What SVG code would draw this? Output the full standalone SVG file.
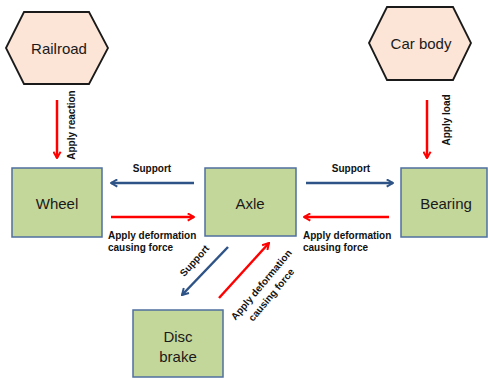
<svg xmlns="http://www.w3.org/2000/svg" width="488" height="378" viewBox="0 0 488 378">
<defs>
<marker id="ar" viewBox="0 0 10 10" refX="8.5" refY="5" markerWidth="9" markerHeight="9" orient="auto" markerUnits="userSpaceOnUse">
<polyline points="1.5,1 8.5,5 1.5,9" fill="none" stroke="#FF0000" stroke-width="2.2"/>
</marker>
<marker id="ab" viewBox="0 0 10 10" refX="8.5" refY="5" markerWidth="9" markerHeight="9" orient="auto" markerUnits="userSpaceOnUse">
<polyline points="1.5,1 8.5,5 1.5,9" fill="none" stroke="#2E5387" stroke-width="2.2"/>
</marker>
<style>
.hex{fill:#FCE4D6;stroke:#1a1a1a;stroke-width:1.8}
.box{fill:#C4D79B;stroke:#4F6F9F;stroke-width:1.5}
.nt{font-family:"Liberation Sans",Arial,sans-serif;font-size:15px;fill:#1a1a1a;text-anchor:middle}
.lb{font-family:"Liberation Sans",Arial,sans-serif;font-size:10px;font-weight:bold;fill:#111}
.r{stroke:#FF0000;stroke-width:2.5;fill:none;marker-end:url(#ar)}
.b{stroke:#2E5387;stroke-width:2.5;fill:none;marker-end:url(#ab)}
</style>
</defs>
<rect width="488" height="378" fill="#fff"/>
<g id="railroad">
<polygon class="hex" points="6,48 24,12 89,12 108,48 89,84 24,84"/>
<text class="nt" x="59" y="54">Railroad</text>
</g>
<g id="carbody">
<polygon class="hex" points="369,43 387,7 453,7 471,43 453,80 387,80"/>
<text class="nt" x="421" y="49">Car body</text>
</g>
<g id="wheel">
<rect class="box" x="12" y="168" width="90" height="69"/>
<text class="nt" x="57" y="209">Wheel</text>
</g>
<g id="axle">
<rect class="box" x="205" y="168" width="91" height="68"/>
<text class="nt" x="250" y="209">Axle</text>
</g>
<g id="bearing">
<rect class="box" x="401" y="168" width="86" height="69"/>
<text class="nt" x="446" y="209">Bearing</text>
</g>
<g id="discbrake">
<rect class="box" x="133" y="310" width="90" height="67"/>
<text class="nt" x="178" y="342">Disc</text>
<text class="nt" x="178" y="362">brake</text>
</g>
<g id="connectors">
<line class="r" x1="57" y1="100" x2="57" y2="158"/>
<text class="lb" transform="translate(75,125) rotate(-90)" text-anchor="middle">Apply reaction</text>
<line class="r" x1="427" y1="100" x2="427" y2="158"/>
<text class="lb" transform="translate(450,120) rotate(-90)" text-anchor="middle">Apply load</text>
<line class="b" x1="194" y1="183" x2="111" y2="183"/>
<text class="lb" x="152" y="172" text-anchor="middle">Support</text>
<line class="r" x1="111" y1="217" x2="194" y2="217"/>
<text class="lb" x="108" y="239">Apply deformation</text>
<text class="lb" x="108" y="251">causing force</text>
<line class="b" x1="306" y1="183" x2="393" y2="183"/>
<text class="lb" x="351" y="172" text-anchor="middle">Support</text>
<line class="r" x1="389" y1="217" x2="304" y2="217"/>
<text class="lb" x="303" y="239">Apply deformation</text>
<text class="lb" x="303" y="251">causing force</text>
<line class="b" x1="228" y1="247" x2="182" y2="295"/>
<text class="lb" transform="translate(197,263) rotate(-48)" text-anchor="middle">Support</text>
<line class="r" x1="219" y1="298" x2="269" y2="243"/>
<text class="lb" transform="translate(264,287) rotate(-50)" text-anchor="middle">Apply deformation</text>
<text class="lb" transform="translate(274,297) rotate(-50)" text-anchor="middle">causing force</text>
</g>
</svg>
